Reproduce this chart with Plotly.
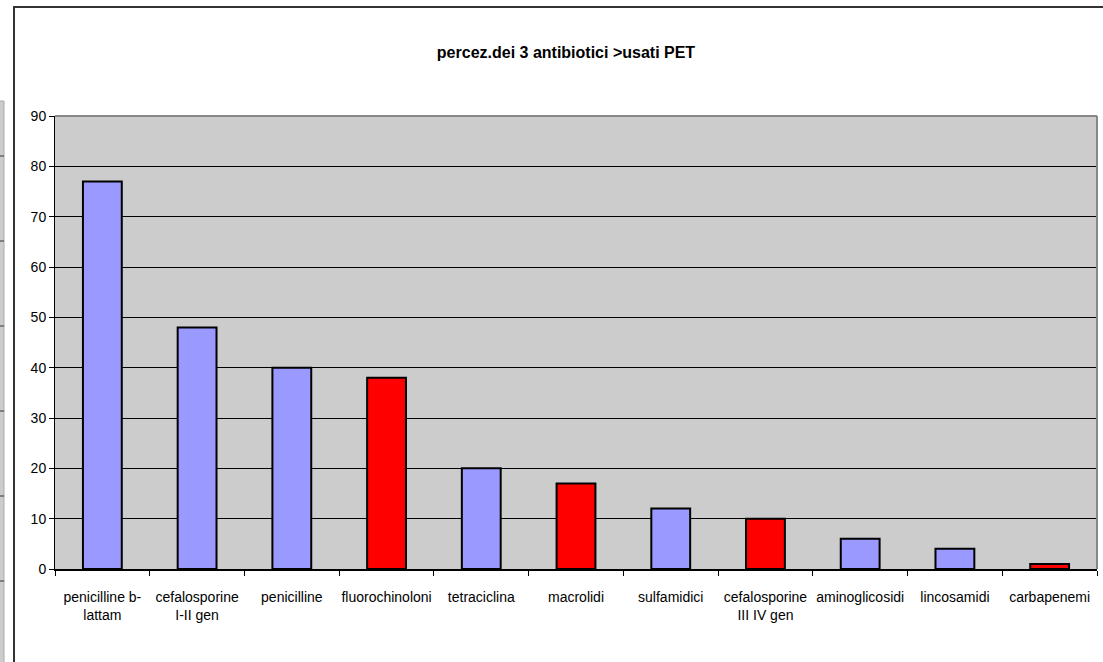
import plotly.graph_objects as go

categories = ["penicilline b-<br>lattam", "cefalosporine<br>I-II gen", "penicilline", "fluorochinoloni",
              "tetraciclina", "macrolidi", "sulfamidici", "cefalosporine<br>III IV gen",
              "aminoglicosidi", "lincosamidi", "carbapenemi"]
values = [77, 48, 40, 38, 20, 17, 12, 10, 6, 4, 1]
bar_colors = ["#9999FF", "#9999FF", "#9999FF", "#FF0000", "#9999FF", "#FF0000",
              "#9999FF", "#FF0000", "#9999FF", "#9999FF", "#FF0000"]
y_ticks = [0, 10, 20, 30, 40, 50, 60, 70, 80, 90]

W, H = 1103, 662
L, R, T, B = 55, 6, 116, 93
pw, ph = W - L - R, H - T - B

def px(x):
    return (x - L) / pw

def py(y):
    return (H - B - y) / ph

font = "Liberation Sans Narrow, Arial Narrow, Liberation Sans, Arial, sans-serif"

fig = go.Figure(go.Bar(
    x=categories, y=values,
    marker=dict(color=bar_colors, line=dict(color="black", width=2)),
    width=0.41,
))

shapes = [
    dict(type="rect", xref="paper", yref="paper", x0=px(14), x1=px(1110), y0=py(670), y1=py(7),
         line=dict(color="#333333", width=2), fillcolor="rgba(0,0,0,0)", layer="below"),
    dict(type="rect", xref="paper", yref="paper", x0=px(-2), x1=px(4), y0=py(670), y1=py(101),
         line=dict(color="#AAAAAA", width=1), fillcolor="#CCCCCC", layer="below"),
    dict(type="line", xref="paper", yref="paper", x0=0, x1=1, y0=1, y1=1,
         line=dict(color="#888888", width=2)),
    dict(type="line", xref="paper", yref="paper", x0=1, x1=1, y0=0, y1=1,
         line=dict(color="#888888", width=2)),
]
for yy in [156, 241, 326, 411, 496, 581]:
    shapes.append(dict(type="line", xref="paper", yref="paper", x0=px(0), x1=px(4), y0=py(yy), y1=py(yy),
                       line=dict(color="#333333", width=1)))

fig.update_layout(
    width=W, height=H,
    margin=dict(l=L, r=R, t=T, b=B, autoexpand=False),
    paper_bgcolor="white", plot_bgcolor="#CCCCCC",
    title=dict(text="<b>percez.dei 3 antibiotici >usati PET</b>", x=566 / W, xanchor="center",
               y=1 - 52 / H, yanchor="middle", font=dict(family=font, size=16, color="black")),
    font=dict(family=font, size=14, color="black"),
    showlegend=False,
    bargap=0.59,
    xaxis=dict(showgrid=False, ticks="outside", tickson="boundaries", ticklen=5, tickcolor="black",
               showline=True, linecolor="black", linewidth=2, tickfont=dict(size=14),
               tickangle=0, automargin=False, ticklabelstandoff=14),
    yaxis=dict(range=[0, 90], tickvals=y_ticks, showgrid=True, gridcolor="black", gridwidth=1,
               ticks="outside", ticklen=5, tickcolor="black", showline=True, linecolor="black",
               linewidth=1, zeroline=False, tickfont=dict(size=14), automargin=False),
    shapes=shapes,
)

fig.write_html("out.html", config={"displayModeBar": False},
               post_script="document.body.style.margin='0';document.body.style.overflow='hidden';")
